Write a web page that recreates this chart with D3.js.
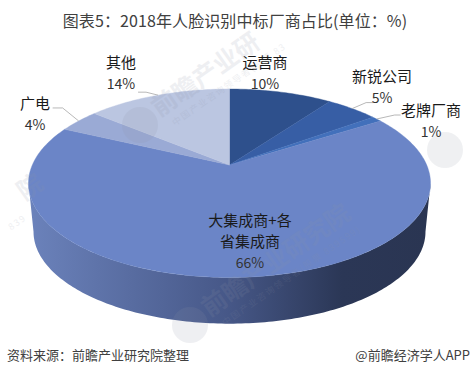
<!DOCTYPE html>
<html>
  <head>
    <meta charset="utf-8">
    <title>人脸识别中标厂商占比</title>
    <script src="https://d3js.org/d3.v7.min.js"></script>
    <style>
      html, body { margin: 0; padding: 0; background: #fff; }
      svg { display: block; }
      text { font-family: "Noto Sans CJK SC", "Noto Sans", sans-serif; }
    </style>
  </head>
  <body>
    <script>
        var categories = ["运营商", "新锐公司", "老牌厂商", "大集成商+各省集成商", "广电", "其他"];
        var shares = [10, 5, 1, 66, 4, 14];
        var sliceColors = ["#2e508c", "#375ea5", "#4270bb", "#6b85c7", "#9aaad5", "#bbc6e1"];
        var labelLines = [["运营商"], ["新锐公司"], ["老牌厂商"], ["大集成商+各", "省集成商"], ["广电"], ["其他"]];

        var width = 471;
        var height = 376;
        var svg = d3.select("body").append("svg")
            .attr("width", width)
            .attr("height", height)
        ;

        // where the pie hub sits and how the tilted disc is foreshortened
        var hubX = 229.5, hubY = 165, depth = 49, bottomScale = 0.975;
        var tilt = 0.1936;
        var scaleU = d3.scaleLinear().domain([-1, 1]).range([-197.2, 197.2]);
        var scaleV = d3.scaleLinear().domain([-1, 1]).range([90.7, -90.7]);

        function project(a, s, dy) {
            var u = Math.sin(a), v = Math.cos(a), w = 1 + tilt * v;
            return [hubX + s * scaleU(u) / w, hubY + dy + s * scaleV(v) / w];
        }
        function arcPoints(a0, a1, s, dy) {
            var n = Math.max(2, Math.ceil((a1 - a0) * 60));
            return d3.range(n + 1).map(function(i) {
                return project(a0 + (a1 - a0) * i / n, s, dy);
            });
        }

        var pie = d3.pie().sort(null).value(function(d) { return d; });
        var slices = pie(shares);
        var line = d3.line();

        var grad = svg.append("defs").append("linearGradient")
            .attr("id", "side")
            .attr("gradientUnits", "userSpaceOnUse")
            .attr("x1", 30).attr("x2", 430).attr("y1", 0).attr("y2", 0)
        ;
        grad.append("stop").attr("offset", 0).attr("stop-color", "#6b82bb");
        grad.append("stop").attr("offset", 0.5).attr("stop-color", "#465787");
        grad.append("stop").attr("offset", 0.78).attr("stop-color", "#2b3756");
        grad.append("stop").attr("offset", 1).attr("stop-color", "#2a3552");

        // side wall: front half of the top rim, back along the bottom rim
        var leftA = 3 * Math.PI / 2 - Math.asin(tilt), rightA = Math.PI / 2 + Math.asin(tilt);
        var wall = arcPoints(rightA, leftA, 1, 0).concat(arcPoints(rightA, leftA, bottomScale, depth).reverse());
        svg.append("path")
            .attr("d", line(wall) + "Z")
            .attr("fill", "url(#side)")
        ;

        svg.selectAll("path.slice")
            .data(slices)
            .enter()
            .append("path")
            .classed("slice", true)
            .attr("d", function(d) {
                return line([[hubX, hubY]].concat(arcPoints(d.startAngle, d.endAngle, 1, 0))) + "Z";
            })
            .attr("fill", function(d, i) { return sliceColors[i]; })
            .attr("stroke", function(d, i) { return sliceColors[i]; })
            .attr("stroke-width", 0.4)
        ;

        // watermark, only the parts that are inside the picture
        var wmX = [140, 445, 190, -132];
        var wmY = [125, 150, 325, 305];
        var wmMain = ["前瞻产业研", "", "前瞻产业研究院", "院"];
        var wmMainAt = [20, 20, 20, 188];
        var wmSub = ["中国产业咨询领导者(股票 83", "", "中国产业咨询领导者(股票 839599)", "839"];
        var wmSubAt = [28, 28, 28, 160];
        var wm = svg.selectAll("g.wm")
            .data(wmX)
            .enter()
            .append("g")
            .classed("wm", true)
            .attr("transform", function(d, i) { return "translate(" + d + "," + wmY[i] + ")"; })
            .attr("fill", "#8d93a6")
            .attr("opacity", 0.14)
        ;
        wm.filter(function(d, i) { return i < 3; }).append("circle").attr("r", 18);
        wm.append("text")
            .attr("transform", "rotate(-35)")
            .attr("x", function(d, i) { return wmMainAt[i]; }).attr("y", 5)
            .attr("font-size", 25)
            .attr("font-weight", 700)
            .text(function(d, i) { return wmMain[i]; })
        ;
        wm.append("text")
            .attr("transform", "rotate(-35)")
            .attr("x", function(d, i) { return wmSubAt[i]; }).attr("y", 21)
            .attr("font-size", 9)
            .attr("letter-spacing", 1.5)
            .text(function(d, i) { return wmSub[i]; })
        ;

        // leader lines from the rim out to the outside labels
        var leaders = [null, [[14, -6], [21, -6]], [[18, -4], [24, -4]], null, [[-16, -13], [-26, -13]], [[-12, -3], [-20, -3]]];
        svg.selectAll("path.leader")
            .data(slices)
            .enter()
            .filter(function(d, i) { return leaders[i]; })
            .append("path")
            .classed("leader", true)
            .attr("d", function(d) {
                var p = project((d.startAngle + d.endAngle) / 2, 1, 0);
                return line([p].concat(leaders[d.index].map(function(o) { return [p[0] + o[0], p[1] + o[1]]; })));
            })
            .attr("fill", "none")
            .attr("stroke", "#a6a6a6")
            .attr("stroke-width", 0.8)
        ;

        // label centres, first line of each
        var labelX = [265, 382, 431, 250, 35, 121];
        var labelY = [68, 82, 116, 226, 109, 68];
        var labels = svg.selectAll("g.label")
            .data(categories)
            .enter()
            .append("g")
            .classed("label", true)
            .attr("text-anchor", "middle")
            .attr("font-size", 15)
        ;
        labels.each(function(d, i) {
            var g = d3.select(this);
            labelLines[i].forEach(function(t, k) {
                g.append("text")
                    .attr("x", labelX[i])
                    .attr("y", labelY[i] + k * 21)
                    .attr("fill", "#1a1a1a")
                    .text(t)
                ;
            });
            g.append("text")
                .attr("x", labelX[i])
                .attr("y", labelY[i] + labelLines[i].length * 21)
                .attr("fill", "#333")
                .attr("font-size", 14)
                .text(shares[i] + "%")
            ;
        });

        svg.append("text")
            .attr("x", 235).attr("y", 27)
            .attr("text-anchor", "middle")
            .attr("font-size", 16)
            .attr("letter-spacing", 0.1)
            .attr("fill", "#404040")
            .text("图表5：2018年人脸识别中标厂商占比(单位：%)")
        ;
        svg.append("text")
            .attr("x", 7).attr("y", 360)
            .attr("font-size", 13)
            .attr("fill", "#404040")
            .text("资料来源：前瞻产业研究院整理")
        ;
        svg.append("text")
            .attr("x", 470).attr("y", 360)
            .attr("text-anchor", "end")
            .attr("font-size", 13)
            .attr("fill", "#404040")
            .text("@前瞻经济学人APP")
        ;
    </script>
  </body>
</html>
